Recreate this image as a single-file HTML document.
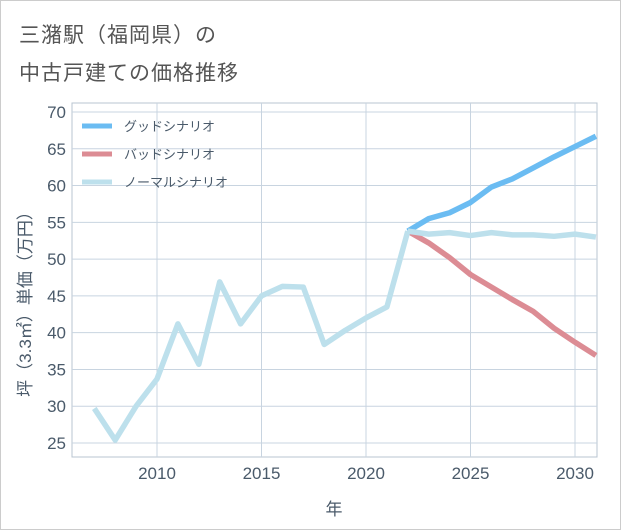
<!DOCTYPE html>
<html><head><meta charset="utf-8"><style>
body{margin:0;background:#fff;}
#wrap{position:relative;width:619px;height:528px;border:1px solid #ccc;background:#fff;font-family:"Liberation Sans","Noto Sans CJK JP",sans-serif;}
.title{position:absolute;left:18px;font-size:21px;color:#555;letter-spacing:1px;}
</style></head><body>
<div id="wrap">
<div class="title" style="top:18px">三潴駅（福岡県）の</div>
<div class="title" style="top:56px">中古戸建ての価格推移</div>
<svg id="chart" width="621" height="530" style="position:absolute;left:-1px;top:-1px"></svg>
</div>
<script>
const years=[2007,2008,2009,2010,2011,2012,2013,2014,2015,2016,2017,2018,2019,2020,2021,2022];
const history=[29.7,25.4,30,33.7,41.2,35.7,46.9,41.2,45,46.3,46.2,38.4,40.3,42,43.5,53.8];
const futureYears=[2022,2023,2024,2025,2026,2027,2028,2029,2030,2031];
const good=[53.8,55.5,56.3,57.7,59.8,60.9,62.4,63.9,65.3,66.7];
const bad=[53.8,52.2,50.2,47.9,46.2,44.5,42.9,40.6,38.7,36.9];
const normal=[53.8,53.4,53.6,53.2,53.6,53.3,53.3,53.1,53.4,53.0];
const yTicks=[25,30,35,40,45,50,55,60,65,70];
const xTicks=[2010,2015,2020,2025,2030];
const legendLabels=["グッドシナリオ","バッドシナリオ","ノーマルシナリオ"];
const ns="http://www.w3.org/2000/svg",svg=document.getElementById('chart');
const L=72,R=597,T=103,B=457;
const xs=y=>157+(y-2010)*(575-157)/20;
const ys=v=>112+(70-v)*(443-112)/45;
function mk(t,a){const e=document.createElementNS(ns,t);for(const k in a)e.setAttribute(k,a[k]);svg.appendChild(e);return e;}
const bg=mk('rect',{x:L,y:T,width:R-L,height:B-T,fill:'#fff',stroke:'#b8c4d0'});


xTicks.forEach(y=>{const g=mk('line',{x1:xs(y),x2:xs(y),y1:T,y2:B,stroke:'#c8d4e0','stroke-width':1});

});
yTicks.forEach(v=>{const g=mk('line',{x1:L,x2:R,y1:ys(v),y2:ys(v),stroke:'#c8d4e0','stroke-width':1});

});
yTicks.forEach(v=>{const t=mk('text',{x:66,y:ys(v)+6,'text-anchor':'end','font-size':17,fill:'#4a5a6a'});t.textContent=v;

});
xTicks.forEach(v=>{const t=mk('text',{x:xs(v),y:479,'text-anchor':'middle','font-size':17,fill:'#4a5a6a'});t.textContent=v;

});
const xt=mk('text',{x:334,y:515,'text-anchor':'middle','font-size':17,fill:'#4a5a6a'});xt.textContent='年';


const yt=mk('text',{x:0,y:0,'text-anchor':'middle','font-size':17,fill:'#4a5a6a',transform:'translate(31,300) rotate(-90)'});yt.textContent='坪（3.3㎡）単価（万円）';


function line(xa,va,col,name){const p=mk('polyline',{points:xa.map((x,i)=>xs(x)+','+ys(va[i])).join(' '),fill:'none',stroke:col,'stroke-width':5.5,'stroke-linejoin':'round'});

}
line(futureYears,good,'#6bbcf2','good-scenario-line');
line(futureYears,bad,'#dc8c94','bad-scenario-line');
line(futureYears,normal,'#bde0ec','normal-scenario-line');
line(years,history,'#bde0ec','history-line');
const cols=['#6bbcf2','#dc8c94','#bde0ec'];
legendLabels.forEach((s,i)=>{const y=126+i*28;
const l=mk('line',{x1:82,x2:112,y1:y,y2:y,stroke:cols[i],'stroke-width':5});


const t=mk('text',{x:124,y:y+5,'font-size':13,fill:'#4a5a6a'});t.textContent=s;

});
</script>
</body></html>
